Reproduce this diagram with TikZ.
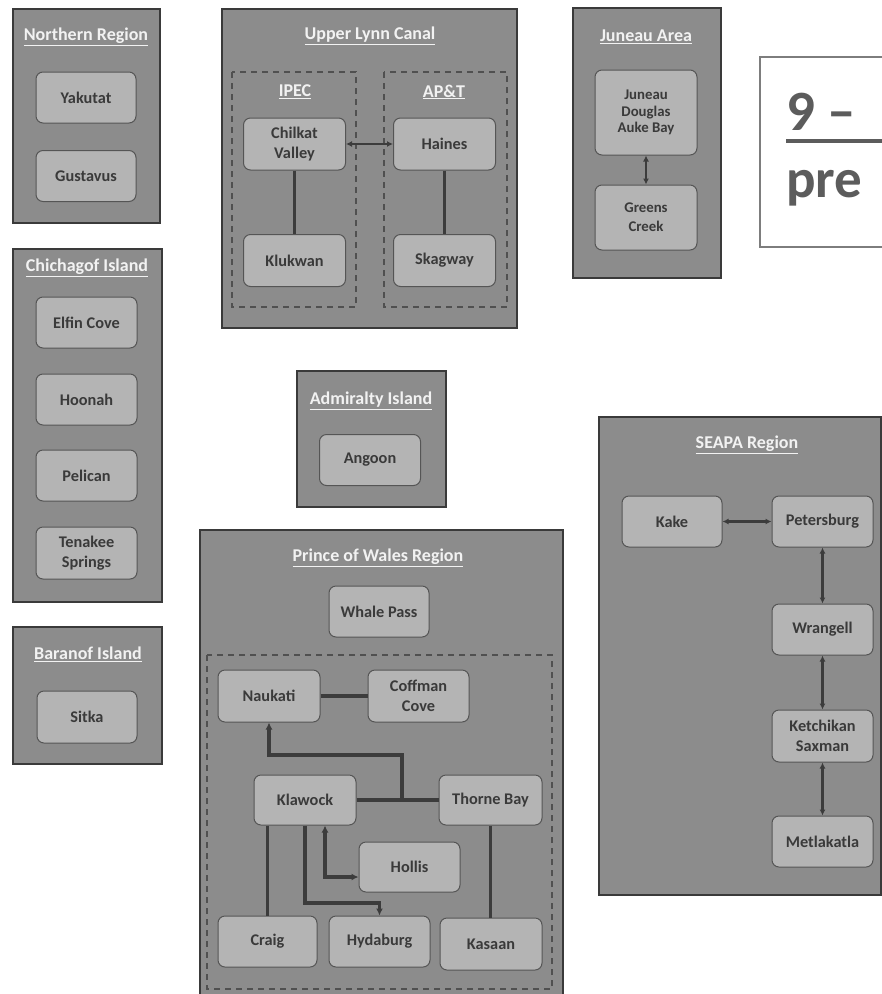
\documentclass[tikz,border=0pt]{standalone}
\usepackage{fontspec}
\setmainfont{Carlito}
\usetikzlibrary{arrows.meta}
\definecolor{regfill}{HTML}{8C8C8C}
\definecolor{regline}{HTML}{3A3A3A}
\definecolor{nodefill}{HTML}{B4B4B4}
\definecolor{nodeline}{HTML}{555555}
\definecolor{txt}{HTML}{3A3A3A}
\definecolor{conncol}{HTML}{3C3C3C}
\definecolor{dashcol}{HTML}{505050}
\definecolor{ttlcol}{HTML}{F2F2F2}
\definecolor{bigcol}{HTML}{5C5C5C}
\tikzset{
  region/.style={draw=regline, fill=regfill, line width=2pt},
  dbox/.style={draw=dashcol, line width=1.3pt, dash pattern=on 6pt off 5pt},
  place/.style={draw=nodeline, fill=nodefill, rounded corners=7pt, line width=1pt,
    text=txt, font=\bfseries\fontsize{16.3}{19.5}\selectfont, align=center, inner sep=0pt},
  sz/.style 2 args={minimum width=#1pt, minimum height=#2pt},
  ttl/.style={text=ttlcol, font=\bfseries\fontsize{18}{20}\selectfont, inner sep=0pt},
  conn/.style={draw=conncol, line width=2.6pt},
  thick conn/.style={draw=conncol, line width=3.4pt},
  tip/.style={arrows={-{Latex[length=7pt,width=7pt]}}},
  tips/.style={arrows={{Latex[length=6pt,width=6pt]}-{Latex[length=6pt,width=6pt]}}},
  bigtips/.style={arrows={{Latex[length=7pt,width=7pt]}-{Latex[length=7pt,width=7pt]}}}
}
\begin{document}
\begin{tikzpicture}[x=1pt,y=-1pt]
\useasboundingbox (0,0) rectangle (882,994);
\fill[white] (0,0) rectangle (882,994);

% ---------- Northern Region
\draw[region] (13,9) rectangle (160,223);
\node[ttl] (tnorth) at (86,37) {\underline{Northern Region}};
\node[place,sz={100}{51}] (yakutat) at (86,97.5) {Yakutat};
\node[place,sz={100}{51}] (gustavus) at (86,176) {Gustavus};

% ---------- Chichagof Island
\draw[region] (13,249) rectangle (162,602);
\node[ttl] (tchich) at (87,268) {\underline{Chichagof Island}};
\node[place,sz={101}{51}] (elfin) at (86.5,322.5) {Elfin Cove};
\node[place,sz={101}{51}] (hoonah) at (86.5,399.5) {Hoonah};
\node[place,sz={101}{51}] (pelican) at (86.5,475.5) {Pelican};
\node[place,sz={101}{52}] (tenakee) at (86.5,553) {Tenakee\\Springs};

% ---------- Baranof Island
\draw[region] (13,627) rectangle (162,764);
\node[ttl] (tbaranof) at (88,654) {\underline{Baranof Island}};
\node[place,sz={100}{52}] (sitka) at (87,717) {Sitka};

% ---------- Upper Lynn Canal
\draw[region] (222,9) rectangle (517,328);
\node[ttl] (tlynn) at (370,36) {\underline{Upper Lynn Canal}};
\draw[dbox] (232,72) rectangle (356,307);
\draw[dbox] (384,72) rectangle (507,307);
\node[ttl] (tipec) at (295,92) {\underline{IPEC}};
\node[ttl] (tapt) at (444,92) {\underline{AP\&T}};
\node[place,sz={102}{52}] (chilkat) at (294.5,144) {Chilkat\\Valley};
\node[place,sz={102}{52}] (klukwan) at (294.5,260.5) {Klukwan};
\node[place,sz={102}{52}] (haines) at (444.5,144) {Haines};
\node[place,sz={102}{52}] (skagway) at (444.5,260.5) {Skagway};
\draw[conn,tips] (chilkat) -- (haines);
\draw[conn] (chilkat) -- (klukwan);
\draw[conn] (haines) -- (skagway);

% ---------- Juneau Area
\draw[region] (573,8) rectangle (721,278);
\node[ttl] (tjuneau) at (646,37) {\underline{Juneau Area}};
\node[place,sz={102}{85},font=\bfseries\fontsize{14.8}{16.7}\selectfont] (juneau) at (646,112.5) {Juneau\\Douglas\\Auke Bay};
\node[place,sz={102}{65},font=\bfseries\fontsize{14.8}{19}\selectfont] (greens) at (646,217.5) {Greens\\Creek};
\draw[conn,tips] (juneau) -- (greens);

% ---------- big title
\draw[draw=bigcol!80, line width=1.5pt] (760,57) rectangle (900,247);
\node[anchor=base west, inner sep=0pt, text=bigcol, font=\bfseries\fontsize{57}{60}\selectfont] (big1) at (786,130) {9 –};
\draw[bigcol, line width=3.5pt] (786,141) -- (900,141);
\node[anchor=base west, inner sep=0pt, text=bigcol, font=\bfseries\fontsize{55}{60}\selectfont] (big2) at (786,197) {pre};

% ---------- Admiralty Island
\draw[region] (297,371) rectangle (446,507);
\node[ttl] (tadm) at (371,401) {\underline{Admiralty Island}};
\node[place,sz={101}{51}] (angoon) at (370,460) {Angoon};

% ---------- Prince of Wales Region
\draw[region] (200,530) rectangle (563,1000);
\node[ttl] (tpow) at (378,558) {\underline{Prince of Wales Region}};
\node[place,sz={100}{51}] (whale) at (379,611.5) {Whale Pass};
\draw[dbox] (207,655) rectangle (552,989);
\node[place,sz={102}{52}] (naukati) at (269,696) {Naukati};
\node[place,sz={101}{52}] (coffman) at (418.5,696) {Coffman\\Cove};
\node[place,sz={102}{50}] (klawock) at (305,800) {Klawock};
\node[place,sz={103}{50}] (thorne) at (490.5,800) {Thorne Bay};
\node[place,sz={101}{50}] (hollis) at (409.5,867) {Hollis};
\node[place,sz={99}{51}] (craig) at (267.5,941.5) {Craig};
\node[place,sz={101}{51}] (hydaburg) at (379.5,941.5) {Hydaburg};
\node[place,sz={102}{52}] (kasaan) at (491,944) {Kasaan};
\coordinate (jn) at (402,800);
\coordinate (jt) at (402,755);
\coordinate (hb) at (379.5,903);
\coordinate (hk) at (325,877);
\draw[thick conn] (naukati) -- (coffman);
\draw[thick conn] (klawock) -- (thorne);
\draw[thick conn,tip] (jn) -- (jt) -| (naukati.south);
\draw[thick conn] (klawock.south -| craig.north) -- (craig.north);
\draw[thick conn,tip] (klawock.south) |- (hb) -- (hydaburg.north);
\draw[thick conn,bigtips] (klawock.south -| hk) -- (hk) -- (hollis.west |- hk);
\draw[thick conn] (thorne.south) -- (thorne.south |- kasaan.north);

% ---------- SEAPA Region
\draw[region] (599,417) rectangle (881,895);
\node[ttl] (tseapa) at (747,445) {\underline{SEAPA Region}};
\node[place,sz={100}{51}] (kake) at (672,521.5) {Kake};
\node[place,sz={101}{51}] (petersburg) at (822.5,521.5) {Petersburg};
\node[place,sz={101}{51}] (wrangell) at (822.5,629.5) {Wrangell};
\node[place,sz={101}{52}] (ketchikan) at (822.5,736) {Ketchikan\\Saxman};
\node[place,sz={101}{51}] (metlakatla) at (822.5,841.5) {Metlakatla};
\draw[conn,tips] (kake) -- (petersburg);
\draw[conn,tips] (petersburg) -- (wrangell);
\draw[conn,tips] (wrangell) -- (ketchikan);
\draw[conn,tips] (ketchikan) -- (metlakatla);
\end{tikzpicture}
\end{document}
